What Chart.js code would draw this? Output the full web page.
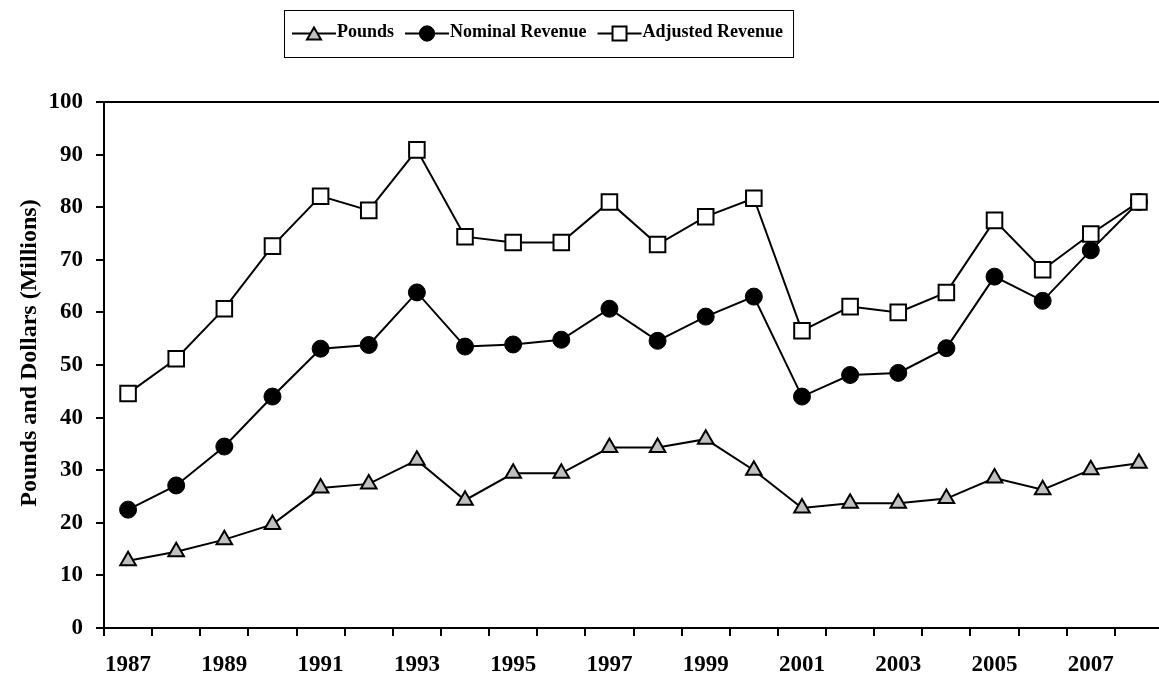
<!DOCTYPE html>
<html>
<head>
<meta charset="utf-8">
<script src="https://cdn.jsdelivr.net/npm/chart.js@4.4.1/dist/chart.umd.min.js"></script>
<style>
html,body{margin:0;padding:0;background:#fff;overflow:hidden;}
canvas{display:block;}
</style>
</head>
<body>
<canvas id="c" width="1176" height="676"></canvas>
<script>
// ---- data ----
const years = ['1987','1988','1989','1990','1991','1992','1993','1994','1995','1996','1997',
               '1998','1999','2000','2001','2002','2003','2004','2005','2006','2007','2008'];
const pounds = [12.8, 14.5, 16.8, 19.7, 26.6, 27.4, 31.9, 24.3, 29.4, 29.4, 34.3,
                34.3, 35.9, 30.0, 22.8, 23.7, 23.7, 24.6, 28.5, 26.3, 30.1, 31.3];
const nominalRevenue = [22.5, 27.1, 34.5, 44.0, 53.1, 53.8, 63.8, 53.5, 53.9, 54.8, 60.7,
                        54.6, 59.2, 63.0, 44.0, 48.1, 48.5, 53.2, 66.8, 62.2, 71.8, 81.0];
const adjustedRevenue = [44.6, 51.2, 60.7, 72.6, 82.1, 79.4, 90.9, 74.4, 73.3, 73.3, 81.0,
                         72.9, 78.2, 81.7, 56.5, 61.1, 60.0, 63.8, 77.5, 68.1, 74.9, 81.0];
const seriesNames = ['Pounds', 'Nominal Revenue', 'Adjusted Revenue'];
const yAxisTitle = 'Pounds and Dollars (Millions)';
const yMin = 0, yMax = 100, yStep = 10;

const SERIF = '"Liberation Serif", "Times New Roman", serif';

// legend with framed box, line + marker samples
const framedLegend = {
  id: 'framedLegend',
  afterDraw(chart) {
    const ctx = chart.ctx;
    const fontSize = 18;
    ctx.save();
    ctx.font = 'bold ' + fontSize + 'px ' + SERIF;
    const sampleW = 44, textGap = 1, itemGap = 11, padL = 8, padR = 10;
    const boxLeft = 284, boxTop = 10, boxH = 47;
    const cy = boxTop + boxH / 2;
    const items = chart.data.datasets.map(ds => ({ ds, w: ctx.measureText(ds.label).width }));
    let x = boxLeft + padL;
    for (const it of items) {
      const ds = it.ds;
      ctx.strokeStyle = '#000';
      ctx.lineWidth = 2;
      ctx.beginPath();
      ctx.moveTo(x, cy);
      ctx.lineTo(x + sampleW, cy);
      ctx.stroke();
      ctx.fillStyle = ds.pointBackgroundColor;
      ctx.strokeStyle = ds.pointBorderColor;
      ctx.lineWidth = ds.pointBorderWidth;
      Chart.helpers.drawPoint(ctx, {
        pointStyle: ds.pointStyle, rotation: 0,
        radius: ds.pointRadius * 0.9, borderWidth: ds.pointBorderWidth
      }, x + sampleW / 2, cy + (ds.pointStyle === 'triangle' ? 2 : 0));
      ctx.fillStyle = '#000';
      ctx.textAlign = 'left';
      ctx.textBaseline = 'alphabetic';
      ctx.fillText(ds.label, x + sampleW + textGap, cy + 3.5);
      x += sampleW + textGap + it.w + itemGap;
    }
    const boxRight = x - itemGap + padR;
    ctx.strokeStyle = '#000';
    ctx.lineWidth = 1;
    ctx.strokeRect(boxLeft + 0.5, boxTop + 0.5, boxRight - boxLeft, boxH);
    ctx.restore();
  }
};

// top frame line of plot area + y axis title
const frameAndTitle = {
  id: 'frameAndTitle',
  afterDraw(chart) {
    const ctx = chart.ctx;
    const a = chart.chartArea;
    ctx.save();
    ctx.strokeStyle = '#000';
    ctx.lineWidth = 2;
    ctx.beginPath();
    ctx.moveTo(a.left, a.top);
    ctx.lineTo(a.right, a.top);
    ctx.stroke();
    ctx.translate(30, (a.top + a.bottom) / 2 - 12);
    ctx.rotate(-Math.PI / 2);
    ctx.font = 'bold 24px ' + SERIF;
    ctx.fillStyle = '#000';
    ctx.textAlign = 'center';
    ctx.textBaseline = 'middle';
    ctx.fillText(yAxisTitle, 0, 0);
    ctx.restore();
  }
};

const tickFont = { family: SERIF, size: 23, weight: 'bold' };

new Chart(document.getElementById('c'), {
  type: 'line',
  data: {
    labels: years,
    datasets: [
      {
        label: seriesNames[0], data: pounds, order: 3,
        borderColor: '#000', borderWidth: 2,
        pointStyle: 'triangle', pointRadius: 9,
        pointBackgroundColor: '#c0c0c0', pointBorderColor: '#000', pointBorderWidth: 2,
        tension: 0
      },
      {
        label: seriesNames[1], data: nominalRevenue, order: 2,
        borderColor: '#000', borderWidth: 2,
        pointStyle: 'circle', pointRadius: 8.5,
        pointBackgroundColor: '#000', pointBorderColor: '#000', pointBorderWidth: 1,
        tension: 0
      },
      {
        label: seriesNames[2], data: adjustedRevenue, order: 1,
        borderColor: '#000', borderWidth: 2,
        pointStyle: 'rect', pointRadius: 11,
        pointBackgroundColor: '#fff', pointBorderColor: '#000', pointBorderWidth: 2,
        tension: 0
      }
    ]
  },
  options: {
    responsive: false,
    animation: false,
    events: [],
    layout: { padding: { top: 102, left: 0, right: 0, bottom: 0 } },
    plugins: {
      legend: { display: false },
      tooltip: { enabled: false },
      title: { display: false }
    },
    scales: {
      x: {
        type: 'category',
        offset: true,
        grid: { offset: true, drawOnChartArea: false, drawTicks: true, tickLength: 8, color: '#000', lineWidth: 2 },
        border: { display: true, color: '#000', width: 2 },
        ticks: {
          autoSkip: false, maxRotation: 0, minRotation: 0,
          color: '#000', font: tickFont, padding: 15,
          callback: function (v, i) { return i % 2 === 0 ? this.getLabelForValue(v) : ''; }
        },
        afterFit(scale) { scale.height = 48; }
      },
      y: {
        min: yMin, max: yMax,
        grid: { drawOnChartArea: false, drawTicks: true, tickLength: 8, color: '#000', lineWidth: 2 },
        border: { display: true, color: '#000', width: 2 },
        ticks: { stepSize: yStep, color: '#000', font: tickFont, padding: 13 },
        afterFit(scale) { scale.width = 104; }
      }
    }
  },
  plugins: [framedLegend, frameAndTitle]
});
</script>
</body>
</html>
